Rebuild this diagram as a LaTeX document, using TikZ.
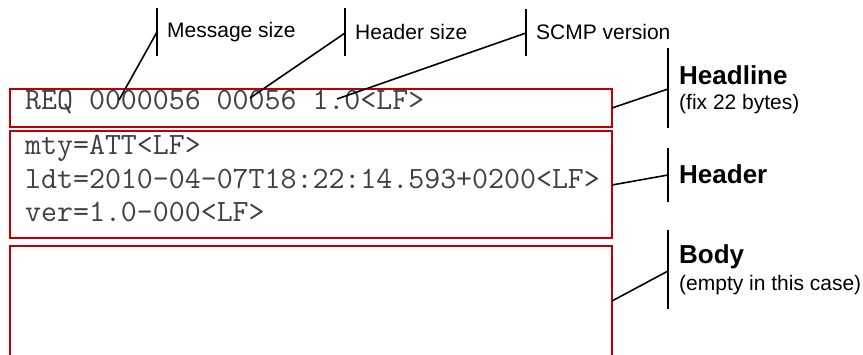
\documentclass[tikz,border=0pt]{standalone}
\usepackage{fontspec}
\setmainfont{Liberation Sans}
\definecolor{boxred}{RGB}{192,0,0}

\begin{document}
\begin{tikzpicture}[x=1pt,y=-1pt,
  redbox/.style={draw=boxred, line width=1.8pt},
  callout/.style={line width=1.6pt, black},
  code/.style={anchor=base west, inner sep=0pt, font=\ttfamily\fontsize{31}{35}\selectfont, text=black!75},
  lbl/.style={anchor=west, inner sep=0pt, font=\fontsize{21}{24}\selectfont},
  title/.style={anchor=west, inner sep=0pt, font=\bfseries\fontsize{26}{30}\selectfont}]
\useasboundingbox (0,0) rectangle (863,354);
% message parts
\draw[redbox] (10,89) rectangle (612,127);
\draw[redbox] (10,131) rectangle (612,238);
\draw[redbox] (10,360) |- (612,246) -- (612,360);
\node[code] (req) at (25,109) {REQ 0000056 00056 1.0<LF>};
\node[code] (mty) at (25,154) {mty=ATT<LF>};
\node[code] (ldt) at (25,188) {ldt=2010-04-07T18:22:14.593+0200<LF>};
\node[code] (ver) at (25,221) {ver=1.0-000<LF>};
% headline fields
\coordinate (msgpt) at (119,100);
\coordinate (hdrpt) at (250,98);
\coordinate (verpt) at (337,99);
\coordinate (msgbar) at (157,32);
\coordinate (hdrbar) at (345,33);
\coordinate (verbar) at (526,33);
\draw[callout] (157,8) -- (157,56);
\draw[callout] (345,8) -- (345,56);
\draw[callout] (526,9) -- (526,56);
\node[lbl] (msglbl) at (167,32) {Message size};
\node[lbl] (hdrlbl) at (355,32) {Header size};
\node[lbl] (verlbl) at (536,32) {SCMP version};
\draw[callout] (msgpt) -- (msgbar);
\draw[callout] (hdrpt) -- (hdrbar);
\draw[callout] (verpt) -- (verbar);
% parts
\coordinate (headpt) at (612,108);
\coordinate (headbar) at (668,89);
\coordinate (hpt) at (612,185);
\coordinate (hbar) at (668,175);
\coordinate (bodypt) at (612,301);
\coordinate (bodybar) at (668,271);
\draw[callout] (668,48) -- (668,128);
\draw[callout] (668,148) -- (668,202);
\draw[callout] (668,230) -- (668,309);
\node[title] (headttl) at (679,75) {Headline};
\node[lbl] (headsub) at (679,104) {(fix 22 bytes)};
\node[title] (hdrttl) at (679,174) {Header};
\node[title] (bodyttl) at (679,257) {Body};
\node[lbl] (bodysub) at (679,285) {(empty in this case)};
\draw[callout] (headpt) -- (headbar);
\draw[callout] (hpt) -- (hbar);
\draw[callout] (bodypt) -- (bodybar);
\end{tikzpicture}
\end{document}
